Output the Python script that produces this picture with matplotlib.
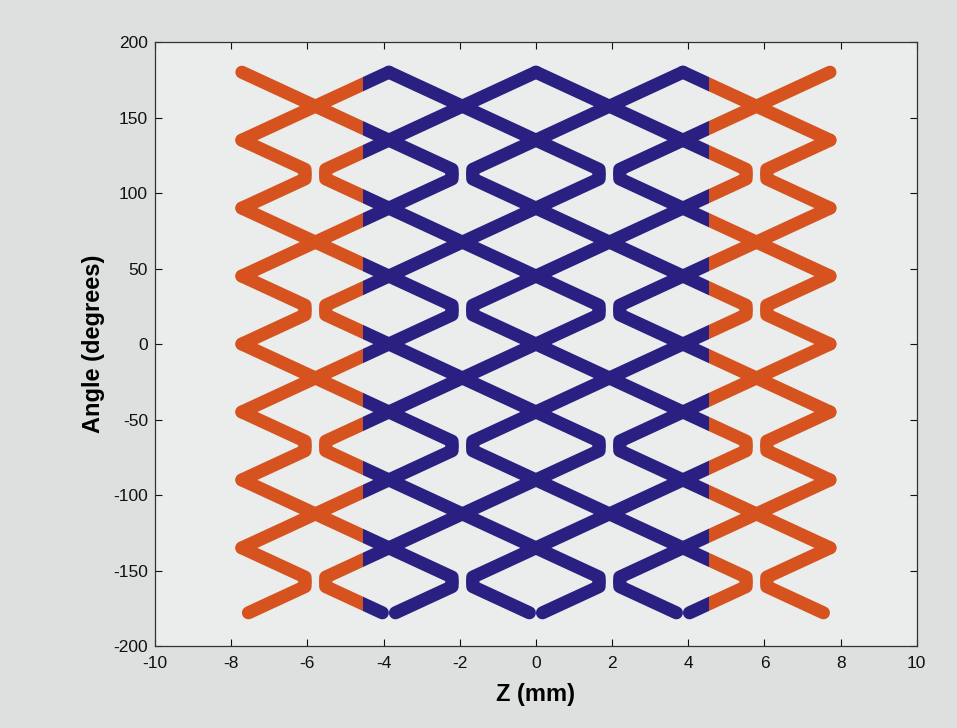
import matplotlib.pyplot as plt
from matplotlib.collections import LineCollection
from matplotlib.patches import Rectangle

plt.rcParams['font.family'] = ['Liberation Sans', 'DejaVu Sans']
plt.rcParams['axes.unicode_minus'] = False

# strut crossing columns (mm) and rows (degrees) of the unrolled stent
z_cols = [-7.72, -5.79, -3.86, -1.93, 0.0, 1.93, 3.86, 5.79, 7.72]
theta_rows = [180, 157.5, 135, 112.5, 90, 67.5, 45, 22.5, 0,
              -22.5, -45, -67.5, -90, -112.5, -135, -157.5, -180]
# rows where the odd columns turn back as open bends instead of crossing
bend_rows = [112.5, 22.5, -67.5, -157.5]
bend_gap = 0.27       # mm between a bend tip and the crossing point
theta_seam = -178.0   # struts stop short of the -180 seam
end_zone = 4.55       # |z| beyond this belongs to the end rings

orange = '#d6521f'
blue = '#2a2082'


def strut(k1, m1, k2, m2):
    z1, t1 = z_cols[k1], theta_rows[m1]
    z2, t2 = z_cols[k2], theta_rows[m2]
    s = (t2 - t1) / (z2 - z1)
    start, end = [(z1, t1)], [(z2, t2)]
    if k1 % 2 and t1 in bend_rows:
        zt = z1 + bend_gap
        start = [(zt, t1), (zt, t1 + s * bend_gap)]
    if k2 % 2 and t2 in bend_rows:
        zt = z2 - bend_gap
        end = [(zt, t2 - s * bend_gap), (zt, t2)]
    if m1 == len(theta_rows) - 1:
        start = [(z1 + (theta_seam - t1) / s, theta_seam)]
    if m2 == len(theta_rows) - 1:
        end = [(z2 + (theta_seam - t2) / s, theta_seam)]
    return start + end


struts = []
for k in range(len(z_cols) - 1):
    for m in range(len(theta_rows)):
        if (k + m) % 2:
            continue
        for m2 in (m - 1, m + 1):
            if 0 <= m2 < len(theta_rows):
                struts.append(strut(k, m, k + 1, m2))

fig = plt.figure(figsize=(9.57, 7.28), dpi=100, facecolor='#dde0de')
ax = fig.add_axes([0.162, 0.1126, 0.796, 0.8297], facecolor='#eaedeb')

# one copy of the struts per colour zone, clipped at the zone edges
zones = [(-12, -end_zone, orange), (-end_zone, end_zone, blue), (end_zone, 12, orange)]
for z0, z1, col in zones:
    lc = LineCollection(struts, colors=col, linewidths=9.4,
                        capstyle='round', joinstyle='round')
    ax.add_collection(lc)
    lc.set_clip_path(Rectangle((z0, -300), z1 - z0, 600, transform=ax.transData))

ax.set_xlim(-10, 10)
ax.set_ylim(-200, 200)
ax.set_xticks(range(-10, 11, 2))
ax.set_yticks(range(-200, 201, 50))
ax.tick_params(direction='in', top=True, right=True, length=5, width=0.8,
               labelsize=12.5, colors='#111111', pad=7)
ax.tick_params(axis='y', pad=5)
for sp in ax.spines.values():
    sp.set_color('#333333')
    sp.set_linewidth(0.9)

ax.set_xlabel('Z (mm)', fontsize=17, fontweight='bold', labelpad=9)
ax.set_ylabel('Angle (degrees)', fontsize=17, fontweight='bold', labelpad=6)

fig.savefig('out.png', dpi=100, facecolor=fig.get_facecolor())
